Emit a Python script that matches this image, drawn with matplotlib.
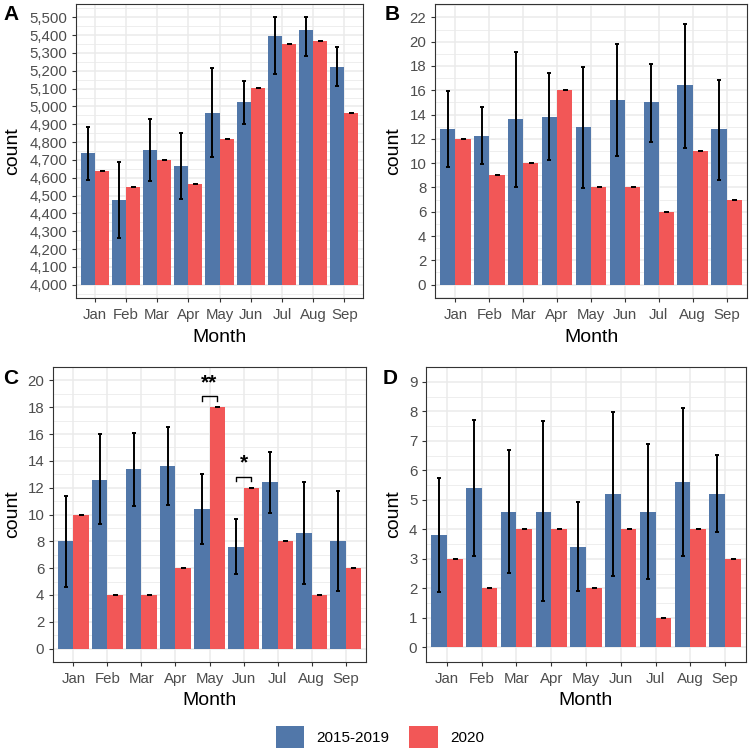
import numpy as np
import matplotlib
matplotlib.use("Agg")
import matplotlib.pyplot as plt
from matplotlib.patches import Patch
from matplotlib.ticker import FuncFormatter

plt.rcParams['font.family'] = ['Liberation Sans', 'DejaVu Sans']

months = ['Jan', 'Feb', 'Mar', 'Apr', 'May', 'Jun', 'Jul', 'Aug', 'Sep']
series_names = ['2015-2019', '2020']

# Panel A
A_hist = [4737, 4476, 4755, 4667, 4965, 5023, 5393, 5430, 5220]
A_lo = [4590, 4262, 4580, 4483, 4715, 4903, 5180, 5282, 5112]
A_hi = [4887, 4689, 4930, 4850, 5215, 5142, 5500, 5500, 5331]
A_2020 = [4637, 4550, 4698, 4563, 4815, 5102, 5350, 5370, 4961]
# Panel B
B_hist = [12.8, 12.2, 13.6, 13.8, 13.0, 15.2, 15.0, 16.4, 12.8]
B_lo = [9.66, 9.9, 8.03, 10.26, 7.97, 10.61, 11.78, 11.24, 8.65]
B_hi = [15.95, 14.6, 19.13, 17.39, 17.93, 19.78, 18.18, 21.47, 16.87]
B_2020 = [12, 9, 10, 16, 8, 8, 6, 11, 7]
# Panel C
C_hist = [8.0, 12.6, 13.4, 13.6, 10.4, 7.6, 12.4, 8.6, 8.0]
C_lo = [4.62, 9.26, 10.62, 10.74, 7.78, 5.53, 10.1, 4.81, 4.27]
C_hi = [11.41, 15.98, 16.1, 16.49, 13.04, 9.7, 14.69, 12.4, 11.78]
C_2020 = [10, 4, 4, 6, 18, 12, 8, 4, 6]
# Panel D
D_hist = [3.8, 5.4, 4.6, 4.6, 3.4, 5.2, 4.6, 5.6, 5.2]
D_lo = [1.88, 3.1, 2.53, 1.56, 1.89, 2.43, 2.31, 3.1, 3.91]
D_hi = [5.73, 7.71, 6.69, 7.66, 4.92, 7.98, 6.9, 8.11, 6.51]
D_2020 = [3, 2, 4, 4, 2, 4, 1, 4, 3]

# significance marks in panel C: (month, label, bracket y, tick end y)
C_sig = [('May', '**', 18.81, 18.45), ('Jun', '*', 12.81, 12.52)]

BLUE = '#5177A9'
RED = '#F25757'
W, H = 749, 755

fig = plt.figure(figsize=(W / 100, H / 100), dpi=100)


def rect(x0, y0, x1, y1):
    return [x0 / W, 1 - y1 / H, (x1 - x0) / W, (y1 - y0) / H]


panels = [
    dict(letter='A', pos=(76, 4, 363, 298), hist=A_hist, lo=A_lo, hi=A_hi, cur=A_2020,
         ylim=(3925, 5575), ticks=np.arange(4000, 5501, 100), base=4000, fmt=True,
         lab=(3, 19.5), ylx=12.5, mb=44.5),
    dict(letter='B', pos=(435, 4, 747, 298), hist=B_hist, lo=B_lo, hi=B_hi, cur=B_2020,
         ylim=(-1.1, 23.1), ticks=np.arange(0, 23, 2), base=0, fmt=False,
         lab=(385, 19.5), ylx=394, mb=44.5),
    dict(letter='C', pos=(53, 367, 366, 662), hist=C_hist, lo=C_lo, hi=C_hi, cur=C_2020,
         ylim=(-1.0, 21.0), ticks=np.arange(0, 21, 2), base=0, fmt=False,
         lab=(3, 383.5), ylx=12.5, mb=43),
    dict(letter='D', pos=(426, 367, 746, 662), hist=D_hist, lo=D_lo, hi=D_hi, cur=D_2020,
         ylim=(-0.45, 9.45), ticks=np.arange(0, 10, 1), base=0, fmt=False,
         lab=(383, 383.5), ylx=393.5, mb=43),
]

x = np.arange(1, len(months) + 1)
bw = 0.45
axes = {}
for p in panels:
    x0, y0, x1, y1 = p['pos']
    ax = fig.add_axes(rect(x0, y0, x1, y1))
    axes[p['letter']] = ax
    ax.set_axisbelow(True)
    hist = np.array(p['hist'], float)
    cur = np.array(p['cur'], float)
    lo = np.array(p['lo'], float)
    hi = np.array(p['hi'], float)
    base = p['base']
    ax.bar(x - bw / 2, hist - base, bw, bottom=base, color=BLUE, edgecolor='none', zorder=2)
    ax.bar(x + bw / 2, cur - base, bw, bottom=base, color=RED, edgecolor='none', zorder=2)
    ax.errorbar(x - bw / 2, hist, yerr=[hist - lo, hi - hist], fmt='none', ecolor='black',
                elinewidth=1.4, capsize=1.6, capthick=1.4, zorder=3)
    ax.errorbar(x + bw / 2, cur, yerr=np.zeros_like(cur), fmt='none', ecolor='black',
                elinewidth=1.4, capsize=1.8, capthick=1.4, zorder=3)
    ax.set_xlim(0.4, len(months) + 0.6)
    ax.set_ylim(*p['ylim'])
    ticks = p['ticks']
    ax.set_yticks(ticks)
    step = ticks[1] - ticks[0]
    minors = np.arange(ticks[0] - step / 2, ticks[-1] + step, step)
    ax.set_yticks(minors, minor=True)
    if p['fmt']:
        ax.yaxis.set_major_formatter(FuncFormatter(lambda v, _: f'{int(v):,}'))
    ax.set_xticks(x)
    ax.set_xticklabels(months)
    ax.grid(True, which='major', color='#EBEBEB', linewidth=1.1)
    ax.grid(True, which='minor', axis='y', color='#EBEBEB', linewidth=0.6)
    ax.tick_params(which='major', length=2.75, width=0.8, color='#333333',
                   labelsize=10.8, labelcolor='#4D4D4D')
    ax.tick_params(axis='x', pad=4.5)
    ax.tick_params(axis='y', pad=3.5)
    ax.tick_params(which='minor', length=0)
    for s in ax.spines.values():
        s.set_color('#333333')
        s.set_linewidth(0.8)
    ax.set_ylabel('count', fontsize=14, va='center')
    ax.yaxis.set_label_coords((p['ylx'] - x0) / (x1 - x0), 0.5)
    ax.set_xlabel('Month', fontsize=14, va='baseline')
    ax.xaxis.set_label_coords(0.5, -p['mb'] / (y1 - y0))
    fig.text(p['lab'][0] / W, 1 - p['lab'][1] / H, p['letter'], fontsize=15,
             fontweight='bold', ha='left', va='baseline')

axC = axes['C']
for m, label, by, ty in C_sig:
    i = months.index(m) + 1
    xa, xb = i - bw / 2, i + bw / 2
    axC.plot([xa, xa, xb, xb], [ty, by, by, ty], color='black', linewidth=1.0, zorder=4)
    axC.text(i, by + 0.6, label, ha='center', va='baseline', fontsize=15,
             fontweight='bold', zorder=4)

handles = [Patch(facecolor=BLUE, edgecolor='none'), Patch(facecolor=RED, edgecolor='none')]
fig.legend(handles, series_names, loc='center', bbox_to_anchor=(380 / W, 1 - 737 / H),
           ncol=2, frameon=False, fontsize=11, handlelength=1.85, handleheight=1.85,
           handletextpad=0.8, columnspacing=1.3, borderaxespad=0, borderpad=0)

fig.savefig('out.png', dpi=100)
